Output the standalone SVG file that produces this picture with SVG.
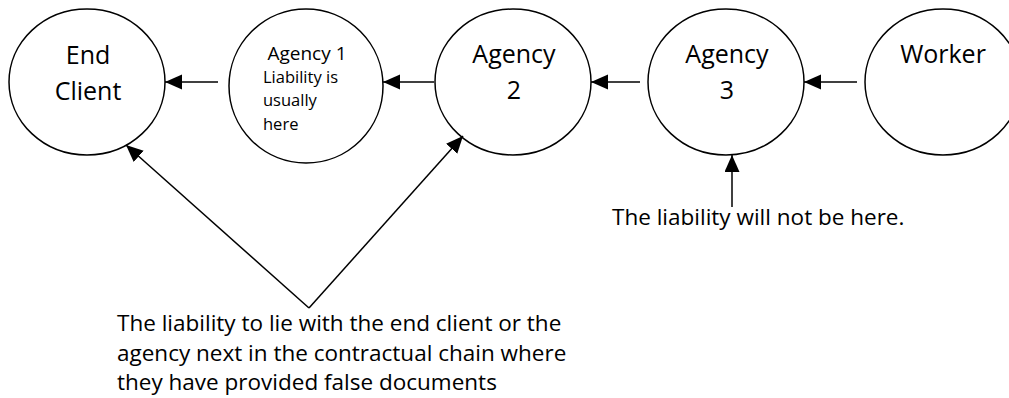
<svg xmlns="http://www.w3.org/2000/svg" width="1009" height="398" viewBox="0 0 1009 398">
<style>
.node{fill:#fff;stroke:#000;stroke-width:1.5}
.big{font-family:"Open Sans","Liberation Sans",sans-serif;font-size:25px;fill:#000;text-anchor:middle}
.small{font-family:"Open Sans","Liberation Sans",sans-serif;font-size:16.5px;fill:#000}
.note{font-family:"Open Sans","Liberation Sans",sans-serif;font-size:22.5px;fill:#000}
.conn{fill:none;stroke:#000;stroke-width:1.5;marker-end:url(#arr)}
</style>
<defs>
<marker id="arr" markerUnits="userSpaceOnUse" markerWidth="18" markerHeight="16" refX="17" refY="7.5" orient="auto">
<path d="M0,0 L17,7.5 L0,15 Z" fill="#000"/>
</marker>
</defs>
<rect width="1009" height="398" fill="#fff"/>
<g id="end-client">
<ellipse class="node" cx="87" cy="82" rx="78" ry="73"/>
<text class="big" x="88" y="64">End</text>
<text class="big" x="88" y="100">Client</text>
</g>
<g id="agency-1">
<ellipse class="node" cx="306" cy="86" rx="77" ry="77"/>
<text class="big" x="307" y="60" style="font-size:19px">Agency 1</text>
<text class="small" x="263" y="83">Liability is</text>
<text class="small" x="263" y="106">usually</text>
<text class="small" x="263" y="130">here</text>
</g>
<g id="agency-2">
<ellipse class="node" cx="513" cy="82" rx="78" ry="73"/>
<text class="big" x="514" y="63">Agency</text>
<text class="big" x="514" y="99">2</text>
</g>
<g id="agency-3">
<ellipse class="node" cx="726" cy="82" rx="78" ry="73"/>
<text class="big" x="727" y="63">Agency</text>
<text class="big" x="727" y="99">3</text>
</g>
<g id="worker">
<ellipse class="node" cx="943" cy="82" rx="78" ry="73"/>
<text class="big" x="943" y="63">Worker</text>
</g>
<g id="connectors">
<line class="conn" x1="218" y1="82" x2="165" y2="82"/>
<line class="conn" x1="434" y1="82" x2="383" y2="82"/>
<line class="conn" x1="640" y1="82" x2="591" y2="82"/>
<line class="conn" x1="857" y1="82" x2="804" y2="82"/>
<line class="conn" x1="732" y1="207" x2="732" y2="155"/>
<line class="conn" x1="309" y1="308" x2="126" y2="145"/>
<line class="conn" x1="309" y1="308" x2="463" y2="136"/>
</g>
<g id="notes">
<text class="note" x="612" y="225">The liability will not be here.</text>
<text class="note" x="117" y="331">The liability to lie with the end client or the</text>
<text class="note" x="117" y="361">agency next in the contractual chain where</text>
<text class="note" x="117" y="390">they have provided false documents</text>
</g>
</svg>
